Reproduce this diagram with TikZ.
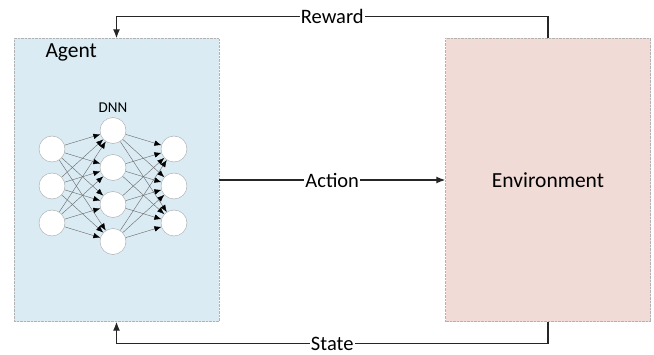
\documentclass[tikz,border=0pt]{standalone}
\usepackage{fontspec}
\setmainfont{Carlito}
\usepackage{xcolor}
\usetikzlibrary{arrows.meta,positioning}

\definecolor{agentblue}{RGB}{218,235,243}
\definecolor{envpink}{RGB}{240,219,215}

\begin{document}
\begin{tikzpicture}[x=1pt,y=1pt,
  block/.style={draw=gray!60, densely dotted, minimum width=205pt, minimum height=283pt, inner sep=0pt},
  neuron/.style={circle, draw=gray!70, fill=white, minimum size=26pt, inner sep=0pt},
  link/.style={draw=gray!80!black, line width=0.4pt, -{Latex[black,length=7pt,width=5.5pt]}},
  flow/.style={draw=black!85, line width=1.3pt, -{Latex[length=9pt,width=7pt]}},
  lbl/.style={fill=white, inner xsep=1pt, inner ysep=0pt, font=\fontsize{20.5}{22}\selectfont}]

\useasboundingbox (0,0) rectangle (654,354);

% the two blocks
\node[block, fill=agentblue] (agent) at (116.5,174) {};
\node[block, fill=envpink] (env) at (548,174) {};

\node[anchor=west, font=\fontsize{21.5}{24}\selectfont] (agentname) at (42,302) {Agent};
\node[font=\fontsize{21.5}{24}\selectfont] (envname) at (env.center) {Environment};

% small network inside the agent
\node[font=\fontsize{15}{18}\selectfont] (dnn) at (113,246) {DNN};

\foreach \i/\y in {1/205,2/168,3/131}
  \node[neuron] (in\i) at (52,\y) {};
\foreach \j/\y in {1/223.5,2/186.5,3/149.5,4/112.5}
  \node[neuron] (hid\j) at (113,\y) {};
\foreach \k/\y in {1/205,2/168,3/131}
  \node[neuron] (out\k) at (174,\y) {};

\foreach \i in {1,2,3}
  \foreach \j in {1,2,3,4}
    \draw[link] (in\i) -- (hid\j);
\foreach \j in {1,2,3,4}
  \foreach \k in {1,2,3}
    \draw[link] (hid\j) -- (out\k);

% loop between agent and environment
\draw[flow] (agent.east) -- node[lbl] {Action} (env.west);
\draw[flow] (env.north) -- ++(0,22) -| node[lbl, pos=0.25] {Reward} (agent.north);
\draw[flow] (env.south) -- ++(0,-22) -| node[lbl, pos=0.25] {State} (agent.south);

\end{tikzpicture}
\end{document}
